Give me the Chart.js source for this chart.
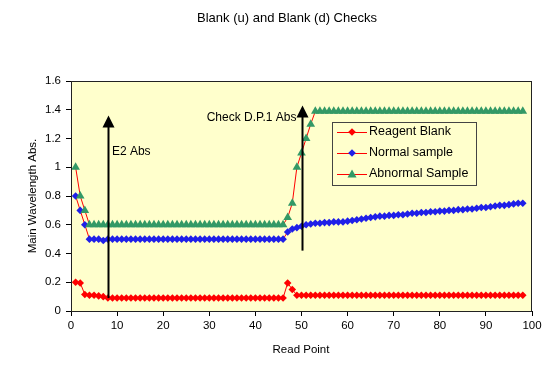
<!DOCTYPE html>
<html>
<head>
<meta charset="utf-8">
<script src="https://cdn.jsdelivr.net/npm/chart.js@4.4.0/dist/chart.umd.min.js"></script>
<style>
html,body{margin:0;padding:0;background:#fff;}
#c{display:block;}
</style>
</head>
<body>
<canvas id="c" width="558" height="367"></canvas>
<script>
const chartTitle = 'Blank (u) and Blank (d) Checks';
const xAxisTitle = 'Read Point';
const yAxisTitle = 'Main Wavelength Abs.';
const seriesNames = ['Reagent Blank', 'Normal sample', 'Abnormal Sample'];
const xTickLabels = ['0','10','20','30','40','50','60','70','80','90','100'];
const yTickLabels = ['0','0.2','0.4','0.6','0.8','1','1.2','1.4','1.6'];

const readPoints = [1,2,3,4,5,6,7,8,9,10,11,12,13,14,15,16,17,18,19,20,
21,22,23,24,25,26,27,28,29,30,31,32,33,34,35,36,37,38,39,40,
41,42,43,44,45,46,47,48,49,50,51,52,53,54,55,56,57,58,59,60,
61,62,63,64,65,66,67,68,69,70,71,72,73,74,75,76,77,78,79,80,
81,82,83,84,85,86,87,88,89,90,91,92,93,94,95,96,97,98];

const reagentBlank = [0.2,0.195,0.115,0.11,0.11,0.105,0.1,0.09,0.09,0.09,
0.09,0.09,0.09,0.09,0.09,0.09,0.09,0.09,0.09,0.09,
0.09,0.09,0.09,0.09,0.09,0.09,0.09,0.09,0.09,0.09,
0.09,0.09,0.09,0.09,0.09,0.09,0.09,0.09,0.09,0.09,
0.09,0.09,0.09,0.09,0.09,0.09,0.195,0.15,0.11,0.11,
0.11,0.11,0.11,0.11,0.11,0.11,0.11,0.11,0.11,0.11,
0.11,0.11,0.11,0.11,0.11,0.11,0.11,0.11,0.11,0.11,
0.11,0.11,0.11,0.11,0.11,0.11,0.11,0.11,0.11,0.11,
0.11,0.11,0.11,0.11,0.11,0.11,0.11,0.11,0.11,0.11,
0.11,0.11,0.11,0.11,0.11,0.11,0.11,0.11];

const normalSample = [0.8,0.7,0.6,0.5,0.5,0.5,0.49,0.5,0.5,0.5,
0.5,0.5,0.5,0.5,0.5,0.5,0.5,0.5,0.5,0.5,
0.5,0.5,0.5,0.5,0.5,0.5,0.5,0.5,0.5,0.5,
0.5,0.5,0.5,0.5,0.5,0.5,0.5,0.5,0.5,0.5,
0.5,0.5,0.5,0.5,0.5,0.5,0.55,0.57,0.58,0.59,
0.6,0.605,0.61,0.61,0.615,0.615,0.62,0.62,0.62,0.625,
0.63,0.635,0.64,0.645,0.65,0.655,0.66,0.66,0.665,0.665,
0.67,0.67,0.675,0.68,0.68,0.685,0.685,0.69,0.69,0.695,
0.695,0.7,0.7,0.705,0.705,0.71,0.71,0.715,0.72,0.72,
0.725,0.73,0.735,0.735,0.74,0.745,0.75,0.75];

const abnormalSample = [1.0,0.8,0.7,0.6,0.6,0.6,0.6,0.6,0.6,0.6,
0.6,0.6,0.6,0.6,0.6,0.6,0.6,0.6,0.6,0.6,
0.6,0.6,0.6,0.6,0.6,0.6,0.6,0.6,0.6,0.6,
0.6,0.6,0.6,0.6,0.6,0.6,0.6,0.6,0.6,0.6,
0.6,0.6,0.6,0.6,0.6,0.6,0.65,0.75,1.0,1.1,
1.2,1.3,1.39,1.39,1.39,1.39,1.39,1.39,1.39,1.39,
1.39,1.39,1.39,1.39,1.39,1.39,1.39,1.39,1.39,1.39,
1.39,1.39,1.39,1.39,1.39,1.39,1.39,1.39,1.39,1.39,
1.39,1.39,1.39,1.39,1.39,1.39,1.39,1.39,1.39,1.39,
1.39,1.39,1.39,1.39,1.39,1.39,1.39,1.39];

// annotation arrows: [x, yFrom, yTo]
const arrowE2 = [8, 0.09, 1.36];
const arrowDP1 = [50, 0.42, 1.43];
const arrowLabels = ['E2 Abs', 'Check D.P.1 Abs'];

const FONT = '"Liberation Sans", Arial, sans-serif';
const toXY = (ys) => ys.map((v, i) => ({x: readPoints[i], y: v}));

const decorPlugin = {
  id: 'decor',
  beforeDatasetsDraw(chart) {
    const {ctx, chartArea: a} = chart;
    ctx.save();
    ctx.fillStyle = '#FFFFCC';
    ctx.fillRect(a.left, a.top, a.right - a.left, a.bottom - a.top);
    ctx.restore();
  },
  afterDatasetsDraw(chart) {
    const {ctx, chartArea: a, scales} = chart;
    const xs = scales.x, ys = scales.y;
    ctx.save();
    // plot border
    ctx.strokeStyle = '#222';
    ctx.lineWidth = 1;
    ctx.strokeRect(a.left + 0.5, a.top + 0.5, a.right - a.left - 1, a.bottom - a.top);
    // arrows
    [arrowE2, arrowDP1].forEach(ar => {
      const px = Math.round(xs.getPixelForValue(ar[0])) + 0.5;
      const y0 = ys.getPixelForValue(ar[1]);
      const y1 = ys.getPixelForValue(ar[2]);
      ctx.strokeStyle = '#000';
      ctx.lineWidth = 2;
      ctx.beginPath();
      ctx.moveTo(px, y0);
      ctx.lineTo(px, y1 + 10);
      ctx.stroke();
      ctx.fillStyle = '#000';
      ctx.beginPath();
      ctx.moveTo(px, y1);
      ctx.lineTo(px - 6, y1 + 12);
      ctx.lineTo(px + 6, y1 + 12);
      ctx.closePath();
      ctx.fill();
    });
    ctx.fillStyle = '#000';
    ctx.font = '12px ' + FONT;
    ctx.textBaseline = 'middle';
    ctx.textAlign = 'left';
    ctx.fillText(arrowLabels[0], xs.getPixelForValue(arrowE2[0]) + 4, 152);
    ctx.textAlign = 'right';
    ctx.fillText(arrowLabels[1], xs.getPixelForValue(arrowDP1[0]) - 5, 118);

    // legend
    const lx = 332, ly = 122, lw = 144, lh = 63;
    ctx.fillStyle = '#FFFFCC';
    ctx.fillRect(lx, ly, lw, lh);
    ctx.strokeStyle = '#444';
    ctx.lineWidth = 1;
    ctx.strokeRect(lx + 0.5, ly + 0.5, lw, lh);
    const rows = [132, 153, 174];
    chart.data.datasets.forEach((ds, i) => {
      const y = rows[i];
      ctx.strokeStyle = ds.borderColor;
      ctx.lineWidth = 1;
      ctx.beginPath();
      ctx.moveTo(337, y + 0.5);
      ctx.lineTo(367, y + 0.5);
      ctx.stroke();
      ctx.fillStyle = ds.pointBackgroundColor;
      ctx.beginPath();
      if (ds.pointStyle === 'triangle') {
        ctx.moveTo(352, y - 4.5);
        ctx.lineTo(356.5, y + 3.5);
        ctx.lineTo(347.5, y + 3.5);
      } else {
        ctx.moveTo(352, y - 3.8);
        ctx.lineTo(355.8, y);
        ctx.lineTo(352, y + 3.8);
        ctx.lineTo(348.2, y);
      }
      ctx.closePath();
      ctx.fill();
      ctx.fillStyle = '#000';
      ctx.textAlign = 'left';
      ctx.textBaseline = 'middle';
      ctx.font = '12.5px ' + FONT;
      ctx.fillText(ds.label, 369, y);
    });

    // titles
    ctx.font = '13px ' + FONT;
    ctx.textAlign = 'center';
    ctx.textBaseline = 'middle';
    ctx.fillText(chartTitle, 287, 18);
    ctx.font = '11.5px ' + FONT;
    ctx.fillText(xAxisTitle, 301, 350);
    ctx.translate(33, 196);
    ctx.rotate(-Math.PI / 2);
    ctx.fillText(yAxisTitle, 0, 0);
    ctx.restore();
  }
};

new Chart(document.getElementById('c'), {
  type: 'line',
  data: {
    datasets: [
      {label: seriesNames[0], data: toXY(reagentBlank), borderColor: '#FF0000', borderWidth: 1,
       pointStyle: 'rectRot', pointRadius: 3.8, pointBackgroundColor: '#FF0000', pointBorderColor: '#FF0000', pointBorderWidth: 0, order: 3},
      {label: seriesNames[1], data: toXY(normalSample), borderColor: '#FF0000', borderWidth: 1,
       pointStyle: 'rectRot', pointRadius: 3.8, pointBackgroundColor: '#1F1FE8', pointBorderColor: '#1F1FE8', pointBorderWidth: 0, order: 2},
      {label: seriesNames[2], data: toXY(abnormalSample), borderColor: '#FF0000', borderWidth: 1,
       pointStyle: 'triangle', pointRadius: 5, pointBackgroundColor: '#339966', pointBorderColor: '#339966', pointBorderWidth: 0, order: 1}
    ]
  },
  options: {
    responsive: false,
    animation: false,
    layout: {padding: {left: 0, right: 26, top: 81, bottom: 0}},
    plugins: {legend: {display: false}, title: {display: false}, tooltip: {enabled: false}},
    scales: {
      x: {
        type: 'linear', min: 0, max: 100,
        afterFit: s => { s.height = 56; },
        afterBuildTicks: s => { s.ticks = xTickLabels.map(t => ({value: Number(t)})); },
        ticks: {stepSize: 10, autoSkip: false, maxRotation: 0, padding: 3, color: '#000',
                font: {family: FONT, size: 11.5},
                callback: (v, i) => xTickLabels[i]},
        grid: {display: true, drawOnChartArea: false, drawTicks: true, tickLength: 5, color: '#000'},
        border: {display: true, color: '#000', width: 1}
      },
      y: {
        min: 0, max: 1.6,
        afterFit: s => { s.width = 71; },
        afterBuildTicks: s => { s.ticks = yTickLabels.map(t => ({value: Number(t)})); },
        ticks: {stepSize: 0.2, padding: 5, color: '#000', font: {family: FONT, size: 11.5},
                callback: (v, i) => yTickLabels[i]},
        grid: {display: true, drawOnChartArea: false, drawTicks: true, tickLength: 5, color: '#000'},
        border: {display: true, color: '#000', width: 1}
      }
    }
  },
  plugins: [decorPlugin]
});
</script>
</body>
</html>
